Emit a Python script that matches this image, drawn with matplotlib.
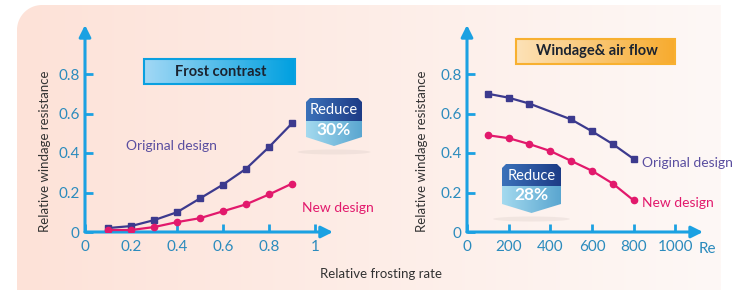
import numpy as np
import matplotlib
matplotlib.use("Agg")
import matplotlib.pyplot as plt
from matplotlib.patches import Polygon, Ellipse, Rectangle
from matplotlib.colors import to_rgb

plt.rcParams['font.family'] = ['Lato', 'DejaVu Sans']

# ----- DATA -----
frost_rate = [0.1, 0.2, 0.3, 0.4, 0.5, 0.6, 0.7, 0.8, 0.9]
frost_original = [0.02, 0.03, 0.06, 0.10, 0.17, 0.24, 0.32, 0.43, 0.55]
frost_new = [0.01, 0.01, 0.025, 0.05, 0.07, 0.105, 0.14, 0.19, 0.245]
frost_xticks = [0, 0.2, 0.4, 0.6, 0.8, 1]
frost_xlabels = ["0", "0.2", "0.4", "0.6", "0.8", "1"]

re_original_x = [100, 200, 300, 500, 600, 700, 800]
re_original = [0.70, 0.68, 0.65, 0.57, 0.51, 0.445, 0.37]
re_new_x = [100, 200, 300, 400, 500, 600, 700, 800]
re_new = [0.49, 0.475, 0.445, 0.41, 0.36, 0.31, 0.245, 0.16]
re_xticks = [0, 200, 400, 600, 800, 1000]
re_xlabels = ["0", "200", "400", "600", "800", "1000"]

yticks = [0, 0.2, 0.4, 0.6, 0.8]
ylabels = ["0", "0.2", "0.4", "0.6", "0.8"]

# ----- COLOURS -----
AXIS = "#1ba1e2"
TICKTXT = "#2b8bbd"
ORIG = "#3c3a8e"
ORIG_TXT = "#5a4ea0"
NEW = "#e2196c"

W, H = 735, 290
fig = plt.figure(figsize=(W / 100, H / 100), dpi=100)

# background axes in pixel coords
bg = fig.add_axes([0, 0, 1, 1])
bg.set_xlim(0, W)
bg.set_ylim(H, 0)
bg.axis("off")


def hgrad(ax, clip, c1, c2, extent, z):
    t = np.linspace(0, 1, 256)[None, :, None]
    arr = (1 - t) * np.array(to_rgb(c1)) + t * np.array(to_rgb(c2))
    im = ax.imshow(arr, extent=extent, aspect="auto", zorder=z, interpolation="bilinear")
    im.set_clip_path(clip)
    return im


# panel with rounded top-left corner
r = 25
ang = np.linspace(np.pi, np.pi * 1.5, 20)
arc = np.column_stack([17 + r + r * np.cos(ang), 5 + r + r * np.sin(ang)])
verts = np.vstack([[[17, 300]], arc, [[721, 5], [721, 300]]])
panel = Polygon(verts, closed=True, facecolor="none", edgecolor="none")
bg.add_patch(panel)
hgrad(bg, panel, "#fde2d8", "#fef8f6", (17, 721, 300, 5), 0)


def title_box(x0, x1, y0, y1, c1, c2, edge, text, cx):
    rect = Rectangle((x0, y0), x1 - x0, y1 - y0, facecolor="none", edgecolor="none")
    bg.add_patch(rect)
    hgrad(bg, rect, c1, c2, (x0, x1, y1, y0), 1)
    bg.add_patch(Rectangle((x0, y0), x1 - x0, y1 - y0, facecolor="none",
                           edgecolor=edge, lw=1.5, zorder=2))
    bg.text(cx, (y0 + y1) / 2, text, ha="center", va="center", fontsize=10.5,
            fontweight="bold", color="#1b2330", zorder=3)


title_box(144, 295, 59, 84, "#a2d8f5", "#00a0e0", "#0aa0e0", "Frost contrast", 221)
title_box(516, 675, 39, 64, "#fde2b8", "#f7ab2e", "#f8b030", "Windage& air flow", 597)


def badge(x0, x1, y0, split, side_end, tip, label):
    cx = (x0 + x1) / 2
    rr = 4
    pts = [[x0, side_end], [x0, y0 + rr], [x0 + rr, y0], [x1 - rr, y0],
           [x1, y0 + rr], [x1, side_end], [cx, tip]]
    bg.add_patch(Ellipse((cx, tip + 6), (x1 - x0) * 1.3, 5, facecolor="#dccfca",
                         edgecolor="none", alpha=0.35, zorder=1))
    shape = Polygon(pts, closed=True, facecolor="none", edgecolor="none")
    bg.add_patch(shape)
    hgrad(bg, shape, "#3b72ba", "#1d3b86", (x0, x1, split, y0), 2)
    hgrad(bg, shape, "#a4daef", "#5aa6d0", (x0, x1, tip, split), 2)
    bg.text(cx, (y0 + split) / 2 + 1, "Reduce", ha="center", va="center",
            fontsize=10.5, color="white", zorder=3)
    bg.text(cx, split + 9, label, ha="center", va="center", fontsize=12.5,
            fontweight="bold", color="white", zorder=3)


badge(306, 362, 98, 121, 137, 146, "30%")
badge(502, 561, 164, 186, 204, 213, "28%")


def chart(left_px, xscale, xmax, xticks, xlabels):
    ymax = 1.048
    ax = fig.add_axes([left_px / W, 58 / H, xmax * xscale / W, ymax * 197.5 / H])
    ax.set_facecolor("none")
    ax.set_xlim(0, xmax)
    ax.set_ylim(0, ymax)
    for s in ax.spines.values():
        s.set_visible(False)
    arrow = dict(arrowstyle="-|>,head_length=0.7,head_width=0.35", color=AXIS,
                 lw=2.2, shrinkA=0, shrinkB=0)
    ax.annotate("", xy=(1, 0), xytext=(0, 0), xycoords="axes fraction", arrowprops=arrow)
    ax.annotate("", xy=(0, 1), xytext=(0, 0), xycoords="axes fraction", arrowprops=arrow)
    ax.set_xticks(xticks)
    ax.set_xticklabels(xlabels)
    ax.set_yticks(yticks)
    ax.set_yticklabels(ylabels)
    ax.tick_params(direction="in", length=6, width=2, color=AXIS, labelcolor=TICKTXT,
                   labelsize=11)
    ax.tick_params(axis="x", pad=6)
    ax.tick_params(axis="y", pad=4)
    return ax


ax1 = chart(85, 230, 1.078, frost_xticks, frost_xlabels)
ax1.plot(frost_rate, frost_original, color=ORIG, lw=1.6, marker="s", ms=4.5, zorder=5)
ax1.plot(frost_rate, frost_new, color=NEW, lw=1.6, marker="o", ms=4.5, zorder=5)

ax2 = chart(467, 0.2083, 1133, re_xticks, re_xlabels)
ax2.plot(re_original_x, re_original, color=ORIG, lw=1.6, marker="s", ms=4.5, zorder=5)
ax2.plot(re_new_x, re_new, color=NEW, lw=1.6, marker="o", ms=4.5, zorder=5)

# labels
bg.text(45, 151, "Relative windage resistance", rotation=90, ha="center", va="center",
        fontsize=9.5, color="#333333", zorder=3)
bg.text(422, 151, "Relative windage resistance", rotation=90, ha="center", va="center",
        fontsize=9.5, color="#333333", zorder=3)
bg.text(381, 274, "Relative frosting rate", ha="center", va="center",
        fontsize=9.5, color="#333333", zorder=3)
bg.text(699, 249, "Re", ha="left", va="center", fontsize=11, color=TICKTXT, zorder=3)

bg.text(126, 146, "Original design", ha="left", va="center", fontsize=10, color=ORIG_TXT, zorder=3)
bg.text(302, 208, "New design", ha="left", va="center", fontsize=10, color=NEW, zorder=3)
bg.text(642, 163, "Original design", ha="left", va="center", fontsize=10, color=ORIG_TXT, zorder=3)
bg.text(642, 203, "New design", ha="left", va="center", fontsize=10, color=NEW, zorder=3)

fig.savefig("out.png", dpi=100)
